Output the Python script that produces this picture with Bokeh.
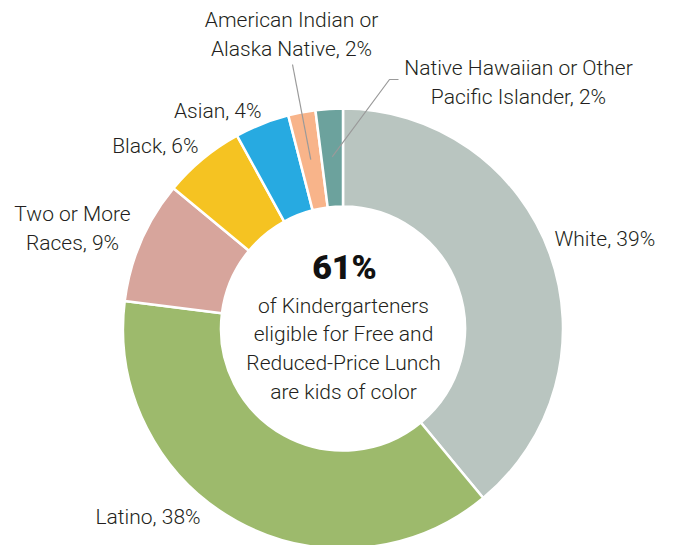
import numpy as np
from bokeh.plotting import figure
from bokeh.models import Range1d
from bokeh.core.properties import value
from bokeh.embed import file_html
from bokeh.resources import INLINE

# ---- data ----
categories = ["White", "Latino", "Two or More Races", "Black", "Asian",
              "American Indian or Alaska Native",
              "Native Hawaiian or Other Pacific Islander"]
shares = [39, 38, 9, 6, 4, 2, 2]
colors = ["#b9c5c0", "#9dba6c", "#d7a59c", "#f5c322", "#27aae1", "#f8b48a", "#6ca29d"]
label_first = ["White", "Latino", "Two or More", "Black", "Asian",
               "American Indian or", "Native Hawaiian or Other"]
label_second = ["", "", "Races", "", "", "Alaska Native", "Pacific Islander"]
headline = "61%"
center_lines = ["of Kindergarteners", "eligible for Free and",
                "Reduced-Price Lunch", "are kids of color"]

# ---- layout ----
W, H = 673, 545
FONT = value("Roboto Light")
FS = "21px"
TXT = "#231f20"


def Y(sy):
    return H - sy


p = figure(width=W, height=H,
           x_range=Range1d(0, W), y_range=Range1d(0, H),
           x_axis_type=None, y_axis_type=None,
           output_backend="svg", toolbar_location=None, min_border=0)
p.outline_line_color = None
p.grid.visible = False
p.background_fill_color = "white"

cx, cy = 342.5, Y(328)
r_out, r_in = 220, 122

frac = np.array(shares, dtype=float) / sum(shares)
cum_end = np.cumsum(frac)
cum_start = cum_end - frac
start = np.pi / 2 - 2 * np.pi * cum_start
end = np.pi / 2 - 2 * np.pi * cum_end

p.annular_wedge(x=cx, y=cy, inner_radius=r_in, outer_radius=r_out,
                start_angle=start, end_angle=end, direction="clock",
                fill_color=colors, line_color="white", line_width=2.5)

# labels: (x, screen y of first line, align)
label_pos = {
    "White": (554, 238, "left"),
    "Latino": (95, 516, "left"),
    "Two or More Races": (72, 213, "center"),
    "Black": (198, 145, "right"),
    "Asian": (261, 110, "right"),
    "American Indian or Alaska Native": (291, 19, "center"),
    "Native Hawaiian or Other Pacific Islander": (518, 67, "center"),
}
LH = 29
for cat, s, l1, l2 in zip(categories, shares, label_first, label_second):
    x, sy, align = label_pos[cat]
    if l2:
        lines = [l1, f"{l2}, {s}%"]
    else:
        lines = [f"{l1}, {s}%"]
    for i, t in enumerate(lines):
        p.text(x=[x], y=[Y(sy + i * LH)], text=[t], text_align=align,
               text_baseline="middle", text_font=FONT, text_font_size=FS,
               text_color=TXT)

# leader lines for small slices
mid = (cum_start + cum_end) / 2
r_lead = 172


def slice_point(i):
    a = 2 * np.pi * mid[i]
    return cx + r_lead * np.sin(a), cy + r_lead * np.cos(a)

ax, ay = slice_point(5)
p.line(x=[292, ax], y=[Y(64), ay], line_color="#9a9a9a", line_width=1.2)
nx, ny = slice_point(6)
p.line(x=[398, 389, nx], y=[Y(79), Y(79), ny], line_color="#9a9a9a", line_width=1.2)

# center text
p.text(x=[344], y=[Y(266)], text=[headline], text_align="center",
       text_baseline="middle", text_font=value("Roboto Black"),
       text_font_size="34px", text_color="#111111")
for i, t in enumerate(center_lines):
    p.text(x=[343], y=[Y(305 + i * 28.7)], text=[t], text_align="center",
           text_baseline="middle", text_font=FONT, text_font_size=FS,
           text_color=TXT)

open("out.html", "w").write(file_html(p, INLINE))
